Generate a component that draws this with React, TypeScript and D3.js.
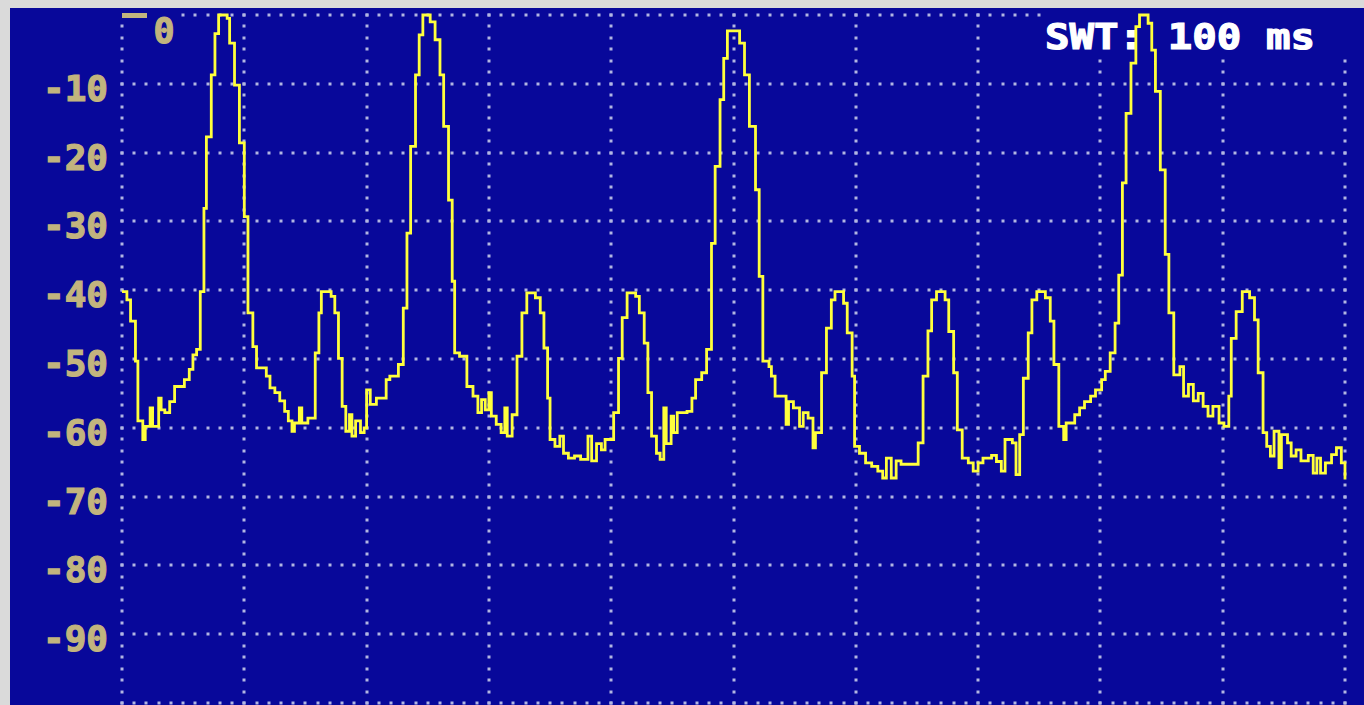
import React from "react";
import * as d3 from "d3";

// Zero-span trace: sweep time (ms) at each level change, and level (dB)
const sweepTimeMs = [
  0.0, 0.4, 0.7, 1.1, 1.3, 1.7, 1.9, 2.3, 2.5, 3.0, 3.2, 3.5, 3.9, 4.3, 5.1, 5.5, 5.8, 6.1, 6.4, 6.7,
  6.9, 7.3, 7.6, 7.9, 8.6, 8.8, 9.2, 9.6, 10.0, 10.3, 10.7, 11.0, 11.8, 12.1, 12.5, 12.9, 13.3, 13.6, 13.9, 14.1,
  14.5, 14.7, 15.2, 15.8, 16.1, 16.3, 17.1, 17.4, 17.7, 18.0, 18.3, 18.6, 18.8, 19.1, 19.5, 19.8, 20.0, 20.3, 20.8, 21.6,
  21.9, 22.6, 23.0, 23.3, 23.6, 24.0, 24.3, 24.6, 25.2, 25.6, 26.0, 26.3, 26.7, 27.0, 27.2, 27.6, 28.2, 28.7, 29.1, 29.4,
  29.7, 30.0, 30.2, 30.6, 31.0, 31.3, 31.5, 31.9, 32.3, 32.7, 33.1, 33.8, 34.2, 34.5, 34.8, 35.0, 35.4, 35.8, 36.1, 36.5,
  37.0, 37.5, 38.1, 38.4, 38.8, 39.2, 39.5, 40.2, 40.6, 40.9, 41.3, 42.0, 42.3, 42.7, 43.0, 43.3, 43.7, 44.0, 44.3, 44.5,
  44.9, 45.1, 45.4, 46.2, 46.6, 46.9, 47.4, 47.8, 48.2, 48.5, 48.9, 49.2, 49.5, 50.5, 50.9, 51.3, 51.8, 52.1, 52.4, 52.9,
  53.1, 53.4, 54.3, 54.5, 54.9, 55.4, 55.7, 56.1, 56.5, 56.7, 57.2, 57.6, 58.0, 58.3, 59.0, 59.3, 59.7, 59.9, 60.3, 60.8,
  61.3, 61.8, 62.2, 62.5, 62.9, 63.3, 63.7, 65.1, 65.5, 65.9, 66.2, 66.6, 67.3, 67.6, 68.0, 68.3, 68.7, 69.2, 69.6, 70.0,
  70.4, 71.1, 71.5, 71.9, 72.2, 72.8, 73.1, 73.4, 73.7, 74.1, 74.4, 74.8, 75.5, 75.9, 76.2, 76.6, 77.0, 77.2, 77.9, 78.3,
  78.7, 79.2, 79.6, 80.1, 80.4, 80.8, 81.2, 81.5, 81.8, 82.1, 82.5, 82.9, 83.2, 83.9, 84.2, 84.5, 84.9, 85.3, 85.6, 86.0,
  86.5, 86.8, 87.2, 87.6, 88.0, 88.4, 88.8, 89.2, 89.7, 90.1, 90.5, 90.7, 91.1, 91.6, 92.2, 92.6, 92.9, 93.3, 93.6, 93.9,
  94.2, 94.6, 94.8, 95.3, 95.6, 96.0, 96.4, 97.0, 97.4, 97.7, 98.0, 98.4, 98.9, 99.3, 99.7, 100.0,
];

const levelDb = [
  -40.2, -41.4, -44.5, -50.3, -59.0, -61.7, -59.8, -57.1, -59.8, -55.7, -57.4, -57.8, -56.2, -54.0, -53.0, -51.5, -49.4, -48.6, -40.2, -28.1,
  -17.7, -8.7, -2.7, 0.0, -0.5, -4.1, -10.2, -18.6, -29.3, -43.3, -48.2, -51.3, -52.5, -54.2, -54.9, -56.1, -57.6, -59.0, -60.5, -59.3,
  -57.1, -59.3, -58.6, -49.1, -43.3, -40.2, -40.9, -43.3, -49.9, -56.9, -60.5, -58.1, -61.2, -59.0, -60.7, -60.0, -54.5, -56.6, -55.7, -53.0,
  -52.5, -50.8, -42.6, -31.7, -19.1, -8.7, -2.9, 0.0, -1.0, -3.6, -8.7, -16.2, -26.9, -38.7, -49.1, -49.6, -54.0, -55.4, -57.8, -55.9,
  -57.4, -54.9, -58.3, -59.5, -60.7, -57.1, -61.2, -58.1, -49.6, -43.3, -40.4, -41.1, -43.3, -48.4, -55.7, -61.7, -62.7, -61.2, -63.7, -64.4,
  -64.1, -64.6, -61.2, -64.8, -62.3, -63.2, -61.7, -57.8, -49.9, -44.0, -40.4, -40.9, -43.3, -47.7, -54.9, -61.2, -63.7, -64.6, -57.1, -62.3,
  -58.3, -60.7, -57.8, -57.6, -55.7, -53.0, -52.0, -48.6, -33.2, -22.0, -12.3, -6.3, -2.3, -4.1, -8.7, -16.2, -25.4, -38.0, -50.3, -51.1,
  -52.5, -55.4, -59.5, -56.2, -57.1, -59.8, -57.8, -58.6, -62.9, -60.7, -52.0, -45.5, -41.4, -40.2, -41.9, -46.2, -52.5, -62.7, -63.7, -65.1,
  -65.6, -66.3, -67.3, -64.4, -67.3, -64.8, -65.3, -62.2, -52.5, -45.9, -41.4, -40.2, -41.4, -46.0, -52.0, -60.3, -64.4, -65.1, -66.3, -65.1,
  -64.4, -64.0, -64.9, -66.3, -61.7, -62.2, -66.8, -61.0, -52.8, -46.2, -41.4, -40.2, -41.1, -44.5, -50.8, -59.8, -61.7, -59.3, -58.1, -57.1,
  -56.2, -55.4, -54.5, -53.0, -51.8, -49.1, -44.8, -37.8, -24.4, -14.3, -7.0, -1.7, 0.0, -1.2, -5.1, -11.1, -22.5, -34.8, -43.3, -52.3,
  -51.1, -55.4, -53.7, -56.1, -55.0, -56.9, -58.3, -56.9, -59.3, -59.8, -55.4, -47.0, -43.1, -40.2, -41.1, -44.3, -52.0, -60.7, -62.7, -64.1,
  -60.5, -65.8, -61.0, -62.2, -64.1, -63.2, -64.8, -64.0, -66.6, -64.4, -66.6, -65.1, -63.9, -62.9, -65.1, -67.5,
];

const levelTicks = [-10, -20, -30, -40, -50, -60, -70, -80, -90];
const gridLevels = [0, -10, -20, -30, -40, -50, -60, -70, -80, -90, -100];
const gridTimes = [0, 10, 20, 30, 40, 50, 60, 70, 80, 90, 100];
const topLabel = "0";
const sweepLabel = "SWT: 100 ms";

const W = 1364;
const H = 705;
const BLUE = "#08089a";
const DOT = "#b2b6e2";
const TAN = "#c2b47e";
const TRACE = "#ffff3c";

export default function App() {
  const x = d3.scaleLinear().domain([0, 100]).range([122, 1345]);
  const y = d3.scaleLinear().domain([-100, 0]).range([703, 15]);

  const line = d3
    .line<number>()
    .x((_, i) => x(sweepTimeMs[i]))
    .y((d) => y(d))
    .curve(d3.curveStepAfter);
  const tracePath = line(levelDb) || "";

  // dotted grid: 10 dots per horizontal division, 6 per vertical division
  const hDots: [number, number][] = [];
  gridLevels.forEach((lv) => {
    d3.range(0, 100.001, 1).forEach((t) => hDots.push([x(t), y(lv)]));
  });
  const vDots: [number, number][] = [];
  gridTimes.forEach((t) => {
    d3.range(-100, 0.001, 10 / 6).forEach((lv) => vDots.push([x(t), y(lv)]));
  });

  return (
    <svg
      width={W}
      height={H}
      style={{ position: "absolute", left: 0, top: 0, display: "block" }}
    >
      <rect x={0} y={0} width={W} height={H} fill="#dadada" />
      <rect x={10} y={8} width={W - 10} height={H - 8} fill={BLUE} />

      <g fill={DOT}>
        {hDots.map(([cx, cy], i) => (
          <rect key={"h" + i} x={Math.round(cx) - 1.5} y={Math.round(cy) - 1.5} width={3} height={3} />
        ))}
        {vDots.map(([cx, cy], i) => (
          <rect key={"v" + i} x={Math.round(cx) - 1.5} y={Math.round(cy) - 1.5} width={3} height={3} />
        ))}
      </g>

      {/* boxes behind annotations */}
      <rect x={1042} y={8} width={W - 1042} height={49} fill={BLUE} />
      <rect x={117} y={8} width={63} height={15} fill={BLUE} />

      <g
        fontFamily="'DejaVu Sans Mono', monospace"
        fontWeight="bold"
        fontSize={35}
        fill={TAN}
        stroke={TAN}
        strokeWidth={1.2}
      >
        {levelTicks.map((v) => (
          <text
            key={v}
            x={108}
            y={y(v) + 17}
            textAnchor="end"
            textLength={65}
            lengthAdjust="spacingAndGlyphs"
          >
            {String(v)}
          </text>
        ))}
        <text x={164} y={43} textAnchor="middle">
          {topLabel}
        </text>
      </g>
      <rect x={122} y={13} width={25} height={5} fill={TAN} />

      <text
        x={1045}
        y={49}
        fontFamily="'DejaVu Sans Mono', monospace"
        fontWeight="bold"
        fontSize={36}
        fill="#ffffff"
        stroke="#ffffff"
        strokeWidth={1.2}
        textLength={270}
        lengthAdjust="spacingAndGlyphs"
      >
        {sweepLabel}
      </text>

      <path d={tracePath} fill="none" stroke={TRACE} strokeWidth={2.8} strokeLinejoin="miter" />
    </svg>
  );
}
